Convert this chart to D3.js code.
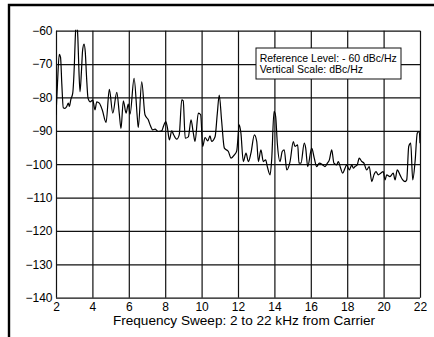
<!DOCTYPE html>
<html>
<head>
<meta charset="utf-8">
<script src="https://cdn.jsdelivr.net/npm/d3@7"></script>
<style>
  html, body { margin: 0; padding: 0; background: #fff; }
  svg { display: block; font-family: "Liberation Sans", Arial, sans-serif; }
</style>
</head>
<body>
<div id="chart"></div>
<script>
// frequency offset from carrier, kHz
const freq = [
  2.00, 2.08, 2.18, 2.25, 2.32, 2.40, 2.49, 2.58, 2.68, 2.73, 2.82, 2.92, 3.01, 3.06, 3.13, 3.20,
  3.26, 3.32, 3.40, 3.46, 3.54, 3.61, 3.68, 3.76, 3.87, 4.02, 4.14, 4.24, 4.38, 4.54, 4.75, 4.93,
  5.12, 5.34, 5.48, 5.57, 5.70, 5.85, 5.97, 6.07, 6.29, 6.47, 6.52, 6.71, 6.89, 7.07, 7.19, 7.31,
  7.44, 7.62, 7.81, 7.90, 8.03, 8.12, 8.23, 8.36, 8.45, 8.63, 8.77, 8.91, 8.99, 9.10, 9.27, 9.42,
  9.54, 9.64, 9.82, 9.95, 10.06, 10.19, 10.34, 10.46, 10.55, 10.74, 10.86, 10.97, 11.10, 11.25, 11.47, 11.62,
  11.80, 11.93, 12.07, 12.16, 12.29, 12.44, 12.57, 12.71, 12.90, 13.03, 13.12, 13.26, 13.39, 13.52, 13.61, 13.76,
  13.85, 13.98, 14.07, 14.16, 14.31, 14.43, 14.54, 14.68, 14.86, 15.04, 15.13, 15.28, 15.35, 15.46, 15.64, 15.72,
  15.83, 16.05, 16.19, 16.32, 16.47, 16.65, 16.78, 16.91, 17.02, 17.15, 17.27, 17.42, 17.51, 17.64, 17.75, 17.88,
  17.97, 18.12, 18.25, 18.34, 18.43, 18.55, 18.66, 18.80, 18.92, 19.07, 19.21, 19.35, 19.47, 19.58, 19.71, 19.84,
  19.98, 20.08, 20.17, 20.35, 20.53, 20.63, 20.75, 20.90, 21.05, 21.18, 21.27, 21.38, 21.49, 21.60, 21.73, 21.85,
  21.96, 22.00
];

// phase noise, dBc/Hz
const level = [
  -85.2, -76.0, -67.1, -68.0, -76.0, -83.1, -83.3, -82.8, -81.7, -82.7, -80.5, -78.7, -70.0, -62.0, -57.0, -62.0,
  -72.0, -78.3, -72.0, -66.0, -64.0, -66.5, -74.0, -80.2, -81.3, -80.8, -83.7, -81.3, -81.7, -83.7, -87.5, -77.6,
  -84.7, -78.5, -85.0, -89.3, -81.0, -84.7, -82.0, -85.0, -74.3, -86.2, -89.0, -75.3, -85.2, -86.7, -88.5, -89.7,
  -89.5, -90.2, -90.0, -88.7, -87.2, -89.0, -92.7, -90.0, -91.0, -92.5, -91.2, -80.7, -81.0, -92.2, -91.8, -86.7,
  -90.5, -93.2, -84.7, -85.2, -94.7, -92.0, -93.0, -91.5, -93.2, -91.8, -85.0, -79.3, -87.0, -95.2, -96.2, -98.2,
  -97.2, -96.0, -88.2, -90.7, -99.2, -96.7, -99.2, -96.7, -91.2, -93.2, -99.2, -95.7, -99.2, -98.7, -100.7, -103.2,
  -98.7, -84.2, -85.7, -93.7, -99.2, -96.2, -95.7, -101.7, -99.2, -93.2, -94.7, -94.2, -99.7, -99.7, -93.7, -95.2,
  -100.7, -95.2, -98.2, -100.7, -99.7, -100.2, -100.7, -99.7, -98.7, -95.7, -99.7, -100.2, -99.2, -101.2, -102.7, -101.2,
  -100.2, -101.7, -100.2, -101.2, -100.7, -100.2, -98.2, -99.2, -99.7, -101.7, -100.7, -105.2, -103.2, -102.2, -103.2, -102.7,
  -102.2, -104.7, -103.2, -103.7, -102.7, -104.7, -101.7, -103.2, -104.7, -105.2, -104.7, -94.7, -93.7, -104.7, -99.2, -90.7,
  -90.2, -93.7
];

const xTicks = [2, 4, 6, 8, 10, 12, 14, 16, 18, 20, 22];
const yTicks = [-140, -130, -120, -110, -100, -90, -80, -70, -60];
const noteLines = ['Reference Level: - 60 dBc/Hz', 'Vertical Scale: dBc/Hz'];
const xTitle = 'Frequency Sweep: 2 to 22 kHz from Carrier';

const W = 434, H = 337;
const plot = {left: 56, right: 420, top: 30.7, bottom: 297.7};

const svg = d3.select('#chart').append('svg')
  .attr('width', W)
  .attr('height', H);

svg.append('rect').attr('width', W).attr('height', H).attr('fill', '#fff');

// outer frame: heavy rule on top and left only
svg.append('path')
  .attr('d', `M9,${H} V5 H${W}`)
  .attr('fill', 'none')
  .attr('stroke', '#000')
  .attr('stroke-width', 2.4);

const x = d3.scaleLinear().domain([2, 22]).range([plot.left, plot.right]);
const y = d3.scaleLinear().domain([-140, -60]).range([plot.bottom, plot.top]);

const g = svg.append('g');

// grid via axes
g.append('g')
  .attr('transform', `translate(0,${plot.bottom})`)
  .call(d3.axisBottom(x).tickValues(xTicks).tickFormat(d3.format('d'))
    .tickSizeInner(-(plot.bottom - plot.top)).tickSizeOuter(0).tickPadding(5))
  .call(a => a.select('.domain').remove())
  .call(a => a.selectAll('line').attr('stroke', '#111').attr('stroke-width', 1.2))
  .call(a => a.selectAll('text').attr('fill', '#000').style('font-size', '12px')
    .style('font-family', '"Liberation Sans", Arial, sans-serif'));

g.append('g')
  .attr('transform', `translate(${plot.left},0)`)
  .call(d3.axisLeft(y).tickValues(yTicks).tickFormat(d3.format('d'))
    .tickSizeInner(-(plot.right - plot.left)).tickSizeOuter(0).tickPadding(3.5))
  .call(a => a.select('.domain').remove())
  .call(a => a.selectAll('line').attr('stroke', '#111').attr('stroke-width', 1.2))
  .call(a => a.selectAll('text').attr('fill', '#000').style('font-size', '12px')
    .style('font-family', '"Liberation Sans", Arial, sans-serif'));

svg.append('clipPath').attr('id', 'plot-clip')
  .append('rect')
    .attr('x', plot.left).attr('y', plot.top - 1)
    .attr('width', plot.right - plot.left).attr('height', plot.bottom - plot.top + 1);

const line = d3.line()
  .x((d, i) => x(freq[i]))
  .y(d => y(d))
  .curve(d3.curveMonotoneX);

g.append('path')
  .datum(level)
  .attr('clip-path', 'url(#plot-clip)')
  .attr('d', line)
  .attr('fill', 'none')
  .attr('stroke', '#000')
  .attr('stroke-width', 1.2)
  .attr('stroke-linejoin', 'round');

// note box
const note = g.append('g').attr('transform', 'translate(256,48)');
note.append('rect')
  .attr('width', 145).attr('height', 31)
  .attr('fill', '#fff')
  .attr('stroke', '#111')
  .attr('stroke-width', 1);
note.selectAll('text')
  .data(noteLines)
  .enter().append('text')
    .attr('x', 3.7)
    .attr('y', (d, i) => 13.7 + i * 11)
    .style('font-size', '10.5px')
    .text(d => d);

svg.append('text')
  .attr('x', 244)
  .attr('y', 325)
  .attr('text-anchor', 'middle')
  .style('font-size', '13.6px')
  .text(xTitle);
</script>
</body>
</html>
